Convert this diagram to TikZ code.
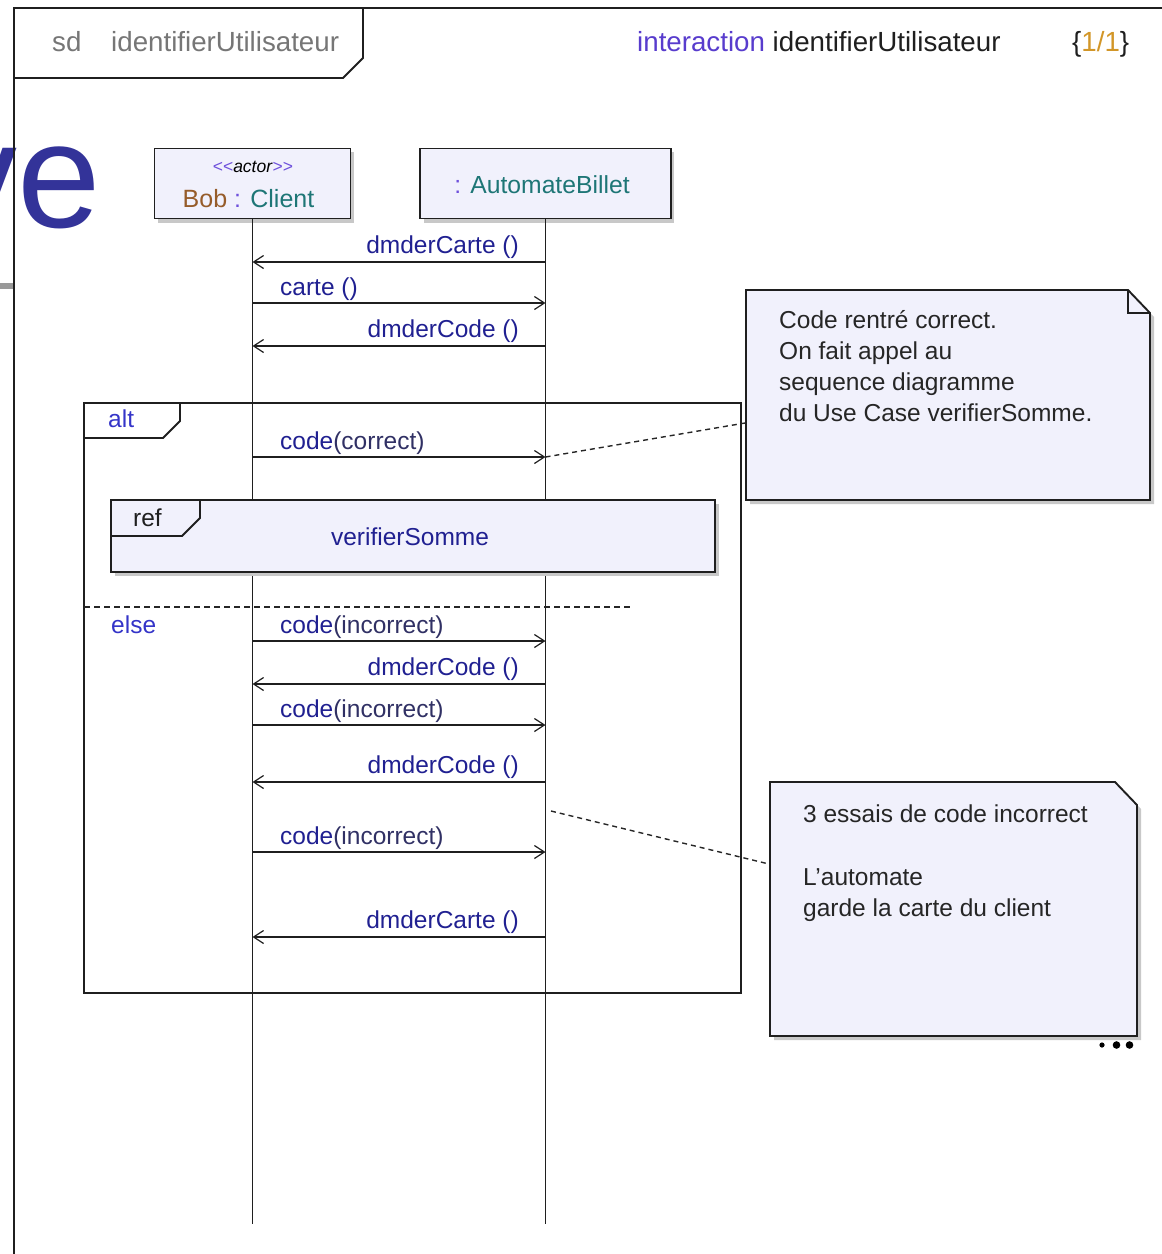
\documentclass[tikz,border=0pt]{standalone}
\usepackage{fontspec}
\setmainfont{Liberation Sans}
\usetikzlibrary{arrows.meta}

\definecolor{lav}{RGB}{241,241,252}
\definecolor{navy}{RGB}{32,32,145}
\definecolor{argcol}{RGB}{48,48,100}
\definecolor{purp}{RGB}{110,80,220}
\definecolor{violetkw}{RGB}{88,60,205}
\definecolor{brownname}{RGB}{150,92,42}
\definecolor{tealname}{RGB}{30,118,118}
\definecolor{orangenum}{RGB}{210,150,40}
\definecolor{greytitle}{RGB}{118,118,118}
\definecolor{altblue}{RGB}{52,52,200}
\definecolor{slideblue}{RGB}{51,51,153}
\definecolor{shadowgrey}{RGB}{200,200,200}

\newcommand\lblfont{\fontsize{24.5}{29}\selectfont}
\newcommand\notefont{\fontsize{24.5}{31}\selectfont}
\newcommand\headfont{\fontsize{27.7}{32}\selectfont}

\tikzset{
  ln/.style={line width=1.9pt, draw=black!88},
  lifebox/.style={ln, fill=lav, minimum width=196pt, minimum height=70pt, inner sep=0pt},
  msg/.style={ln, -{Straight Barb[length=10pt,width=13pt,line width=1.2pt]}},
  lbl/.style={inner sep=0pt, font=\lblfont, text=navy},
  notetxt/.style={inner sep=0pt, font=\notefont, text=black!85, anchor=base west},
  headtxt/.style={inner sep=0pt, font=\headfont, anchor=base west},
  shadow/.style={fill=shadowgrey},
  notelink/.style={line width=1.4pt, draw=black!85, dash pattern=on 5pt off 4pt},
  guard/.style={line width=1.4pt, draw=black!85, dash pattern=on 6pt off 4pt}
}

\begin{document}
\begin{tikzpicture}[x=1pt,y=-1pt]
\useasboundingbox (0,0) rectangle (1162,1254);

% fragment of the slide lying underneath
\begin{scope}
  \clip (0,0) rectangle (1162,1254);
  \node[anchor=base east, inner sep=0pt, text=slideblue,
        font=\fontsize{150}{150}\selectfont] (slideword) at (101,227) {ve};
  \fill[black!40] (0,283) rectangle (14,289);
\end{scope}

% diagram frame and its heading tab
\draw[ln] (1162,8) -- (14,8) -- (14,1254);
\draw[ln] (14,78) -- (343,78) -- (363,58) -- (363,8);
\node[headtxt, text=greytitle] (sdkw) at (52,51) {sd};
\node[headtxt, text=greytitle] (sdname) at (111,51) {identifierUtilisateur};
\node[headtxt, text=black!88] (interact) at (637,51)
  {{\color{violetkw}interaction} identifierUtilisateur};
\node[headtxt, text=black!88] (pageno) at (1072,51)
  {\{{\color{orangenum}1/1}\}};

% lifeline heads
\fill[shadow] (158,152) rectangle (354,223);
\fill[shadow] (424,152) rectangle (674,223);
\node[lifebox] (bob) at (252.5,183.5) {};
\node[lifebox, minimum width=251pt] (auto) at (545.5,183.5) {};
\node[inner sep=0pt, anchor=base, font=\fontsize{17.5}{20}\selectfont] (stereo) at (253,172)
  {{\color{purp}<\kern0pt<}\textit{actor}{\color{purp}>\kern0pt>}};
\node[inner sep=0pt, anchor=base, font=\fontsize{25}{29}\selectfont] (bobname) at (248.5,207)
  {{\color{brownname}Bob} {\color{purp}:} {\color{tealname}Client}};
\node[inner sep=0pt, anchor=base, font=\fontsize{24.7}{29}\selectfont] (autoname) at (542,193)
  {{\color{purp}:} {\color{tealname}AutomateBillet}};

% lifelines
\coordinate (bobend) at (252.5,1224);
\coordinate (autoend) at (545.5,1224);
\draw[ln] (bob.south) -- (bobend);
\draw[ln] (auto.south) -- (autoend);

% messages before the alternative
\draw[msg] (auto |- 0,262) -- (bob |- 0,262);
\node[lbl, anchor=base east] (l1) at (519,253) {dmderCarte ()};
\draw[msg] (bob |- 0,303) -- (auto |- 0,303);
\node[lbl, anchor=base west] (l2) at (280,295) {carte ()};
\draw[msg] (auto |- 0,346) -- (bob |- 0,346);
\node[lbl, anchor=base east] (l3) at (519,337) {dmderCode ()};

% alt combined fragment
\draw[ln] (84,403) rectangle (741,993);
\draw[ln] (84,438) -- (163,438) -- (180,421) -- (180,403);
\node[inner sep=0pt, anchor=base west, font=\lblfont, text=altblue] (altkw) at (108,427) {alt};

\draw[msg] (bob |- 0,457) -- (auto |- 0,457);
\node[lbl, anchor=base west] (l4) at (280,449) {code{\color{argcol}(correct)}};

% interaction use
\fill[shadow] (115,504) rectangle (719,576);
\node[ln, fill=lav, minimum width=604pt, minimum height=72pt, inner sep=0pt] (ref) at (413,536) {};
\draw[ln] (111,536) -- (182,536) -- (200,518) -- (200,500);
\node[inner sep=0pt, anchor=base west, font=\lblfont, text=black!88] (refkw) at (133,526) {ref};
\node[lbl, anchor=base] (refname) at (410,545) {verifierSomme};

% else operand
\draw[guard] (84,607) -- (630,607);
\node[inner sep=0pt, anchor=base west, font=\lblfont, text=altblue] (elsekw) at (111,633) {else};

\draw[msg] (bob |- 0,641) -- (auto |- 0,641);
\node[lbl, anchor=base west] (l5) at (280,633) {code{\color{argcol}(incorrect)}};
\draw[msg] (auto |- 0,684) -- (bob |- 0,684);
\node[lbl, anchor=base east] (l6) at (519,675) {dmderCode ()};
\draw[msg] (bob |- 0,725) -- (auto |- 0,725);
\node[lbl, anchor=base west] (l7) at (280,717) {code{\color{argcol}(incorrect)}};
\draw[msg] (auto |- 0,782) -- (bob |- 0,782);
\node[lbl, anchor=base east] (l8) at (519,773) {dmderCode ()};
\draw[msg] (bob |- 0,852) -- (auto |- 0,852);
\node[lbl, anchor=base west] (l9) at (280,844) {code{\color{argcol}(incorrect)}};
\draw[msg] (auto |- 0,937) -- (bob |- 0,937);
\node[lbl, anchor=base east] (l10) at (519,928) {dmderCarte ()};

% first note
\fill[shadow] (750,294) -- (1132,294) -- (1154,317) -- (1154,504) -- (750,504) -- cycle;
\filldraw[ln, fill=lav] (746,290) -- (1128,290) -- (1150,313) -- (1150,500) -- (746,500) -- cycle;
\draw[ln] (1128,290) -- (1128,313) -- (1150,313);
\node[notetxt] (n1a) at (779,328) {Code rentré correct.};
\node[notetxt] (n1b) at (779,359) {On fait appel au};
\node[notetxt] (n1c) at (779,390) {sequence diagramme};
\node[notetxt] (n1d) at (779,421) {du Use Case verifierSomme.};
\coordinate (n1anchor) at (745,423);
\draw[notelink] (auto |- 0,457) -- (n1anchor);

% second note
\fill[shadow] (774,786) -- (1119,786) -- (1141,809) -- (1141,1040) -- (774,1040) -- cycle;
\filldraw[ln, fill=lav] (770,782) -- (1115,782) -- (1137,805) -- (1137,1036) -- (770,1036) -- cycle;
\node[notetxt] (n2a) at (803,822) {3 essais de code incorrect};
\node[notetxt] (n2b) at (803,885) {L'automate};
\node[notetxt] (n2c) at (803,916.5) {garde la carte du client};
\coordinate (n2start) at (551,811);
\coordinate (n2anchor) at (769,864);
\draw[notelink] (n2start) -- (n2anchor);

% continuation marker
\fill[black] (1102,1045) circle (2.6);
\fill[black] (1116.5,1045) circle (3.8);
\fill[black] (1129.5,1045) circle (3.8);
\end{tikzpicture}
\end{document}
